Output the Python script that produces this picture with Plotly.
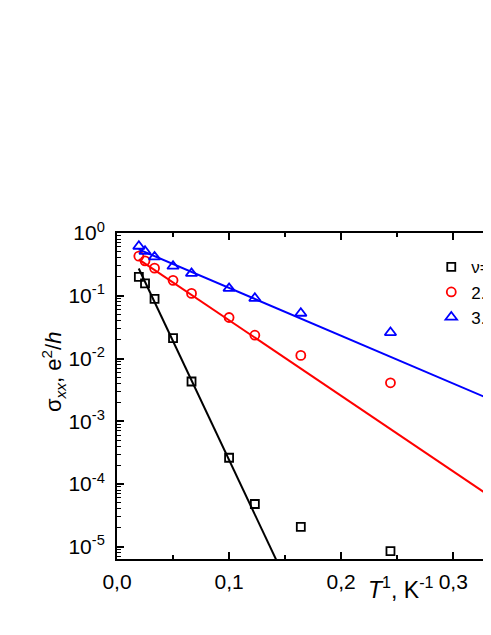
import plotly.graph_objects as go

# inverse temperature, 1/K
inv_T = [0.0195, 0.025, 0.0335, 0.05, 0.0665, 0.1, 0.123, 0.164, 0.244]

# sigma_xx in e^2/h for each filling factor
sigma_nu1 = [0.2, 0.157, 0.089, 0.0211, 0.0043, 2.62e-4, 4.8e-5, 2.07e-5, 8.5e-6]
sigma_nu2 = [0.427, 0.36, 0.275, 0.176, 0.109, 0.045, 0.0235, 0.0112, 0.0041]
sigma_nu3 = [0.615, 0.512, 0.416, 0.296, 0.227, 0.131, 0.091, 0.0526, 0.0259]

# activation fits (end points of the straight lines on the log scale)
fit_x_nu1 = [0.0194, 0.15]
fit_y_nu1 = [0.272, 3.1e-6]
fit_x_nu2 = [0.0194, 0.36]
fit_y_nu2 = [0.381, 3.0e-5]
fit_x_nu3 = [0.0194, 0.36]
fit_y_nu3 = [0.548, 1.39e-3]

names = ['\u03bd=1.0', '2.0', '3.0']
colors = ['black', 'red', 'blue']
symbols = ['square-open', 'circle-open', 'triangle-up-open']
sizes = [8, 9, 10]

y_tickvals = [1, 0.1, 0.01, 0.001, 1e-4, 1e-5]
y_ticktext = ['10<sup>0</sup>', '10<sup>-1</sup>', '10<sup>-2</sup>',
              '10<sup>-3</sup>', '10<sup>-4</sup>', '10<sup>-5</sup>']

font_family = 'Liberation Sans, Arial, sans-serif'

fig = go.Figure()

fits = [(fit_x_nu1, fit_y_nu1), (fit_x_nu2, fit_y_nu2), (fit_x_nu3, fit_y_nu3)]
for (fx, fy), c in zip(fits, colors):
    fig.add_trace(go.Scatter(x=fx, y=fy, mode='lines', line=dict(color=c, width=2),
                             showlegend=False, hoverinfo='skip'))

for ys, nm, c, s, sz in zip([sigma_nu1, sigma_nu2, sigma_nu3], names, colors, symbols, sizes):
    fig.add_trace(go.Scatter(x=inv_T, y=ys, mode='markers', name=nm,
                             marker=dict(symbol=s, size=sz, color=c, line=dict(color=c, width=1.8)),
                             cliponaxis=False))

# the page body has an 8px margin, so the figure is kept inside the window
fig.update_layout(
    width=483, height=619,
    margin=dict(l=109, r=0, t=225, b=68, autoexpand=False),
    paper_bgcolor='white', plot_bgcolor='white',
    font=dict(family=font_family, size=21, color='black'),
    separators=',.',
    showlegend=True,
    legend=dict(x=0.8403, y=0.95, xanchor='left', yanchor='top',
                font=dict(size=17), bgcolor='rgba(0,0,0,0)', borderwidth=0),
)

fig.update_xaxes(range=[0, 0.3337], showline=True, linecolor='black', linewidth=2,
                 mirror='allticks', ticks='inside', ticklen=7, tickwidth=1.5, tickcolor='black',
                 dtick=0.1, tick0=0, tickformat='.1f', showgrid=False, zeroline=False,
                 tickfont=dict(size=21), ticklabelstandoff=3,
                 minor=dict(dtick=0.05, ticks='inside', ticklen=4, tickwidth=1.5, tickcolor='black',
                            showgrid=False))

fig.update_yaxes(type='log', range=[-5.195, 0], showline=True, linecolor='black', linewidth=2,
                 mirror=False, ticks='inside', ticklen=7, tickwidth=1.5, tickcolor='black',
                 tickmode='array', tickvals=y_tickvals, ticktext=y_ticktext,
                 showgrid=False, zeroline=False, tickfont=dict(size=21), ticklabelstandoff=6,
                 minor=dict(dtick='D1', ticks='inside', ticklen=4, tickwidth=1.2, tickcolor='black',
                            showgrid=False))

fig.add_annotation(text='\u03c3<sub><i>xx</i></sub>, e<sup>2</sup>/<i>h</i>',
                   xref='paper', yref='paper', x=-0.17, y=0.575, textangle=-90,
                   xanchor='center', yanchor='middle', showarrow=False, font=dict(size=22))
fig.add_annotation(text='<i>T</i><sup>1</sup>, K<sup>-1</sup>',
                   xref='paper', yref='paper', x=0.759, y=-0.088,
                   xanchor='center', yanchor='middle', showarrow=False, font=dict(size=23))

fig.write_html('out.html')
